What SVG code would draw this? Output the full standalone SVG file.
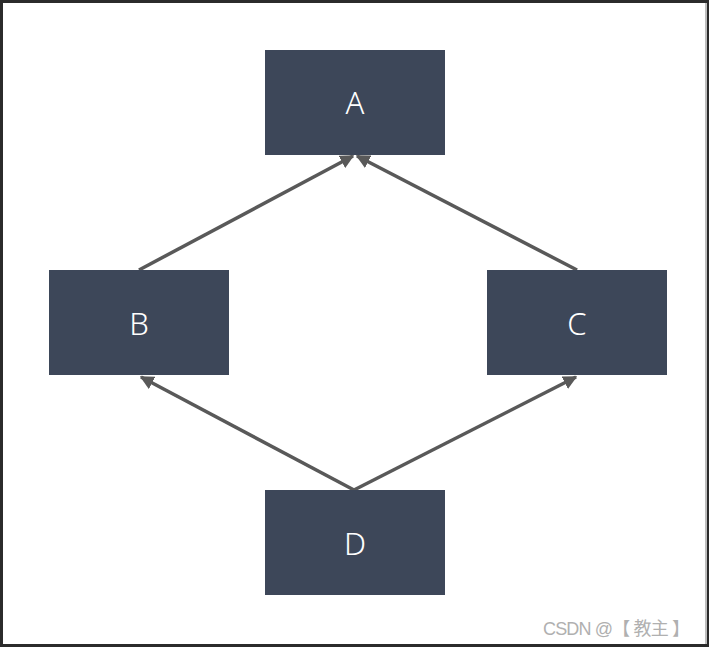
<svg xmlns="http://www.w3.org/2000/svg" width="709" height="647" viewBox="0 0 709 647">
<style>
.node rect{fill:#3d4759}
.node text{fill:#ffffff;font-family:"Noto Sans","Open Sans",sans-serif;font-size:31px;font-weight:300;text-anchor:middle;dominant-baseline:central}
.edge{stroke:#595959;stroke-width:3.5;fill:none;marker-end:url(#arr)}
.wm{fill:#b0b0b0;font-family:"Liberation Sans","Noto Sans CJK SC",sans-serif;font-size:18px}
</style>
<defs>
<marker id="arr" viewBox="0 0 10 10" refX="9" refY="5" markerWidth="4" markerHeight="4" orient="auto" markerUnits="strokeWidth">
<path d="M0,0 L10,5 L0,10 z" fill="#595959"/>
</marker>
</defs>
<rect x="0" y="0" width="709" height="647" fill="#2b2b2b"/>
<rect x="3" y="3" width="703" height="641" fill="#ffffff"/>
<rect x="705" y="3" width="2" height="641" fill="#bdbdbd"/>
<g id="connectors">
<line class="edge" x1="139" y1="270" x2="353" y2="156"/>
<line class="edge" x1="577" y1="270" x2="357" y2="156"/>
<line class="edge" x1="354" y1="490" x2="141" y2="377"/>
<line class="edge" x1="354" y1="490" x2="576" y2="377"/>
</g>
<g id="A" class="node"><rect x="265" y="50" width="180" height="105"/><text x="355" y="102">A</text></g>
<g id="B" class="node"><rect x="49" y="270" width="180" height="105"/><text x="139" y="323">B</text></g>
<g id="C" class="node"><rect x="487" y="270" width="180" height="105"/><text x="577" y="323">C</text></g>
<g id="D" class="node"><rect x="265" y="490" width="180" height="105"/><text x="355" y="543">D</text></g>
<text class="wm" x="543" y="635" textLength="147">CSDN @【 教主 】</text>
</svg>
